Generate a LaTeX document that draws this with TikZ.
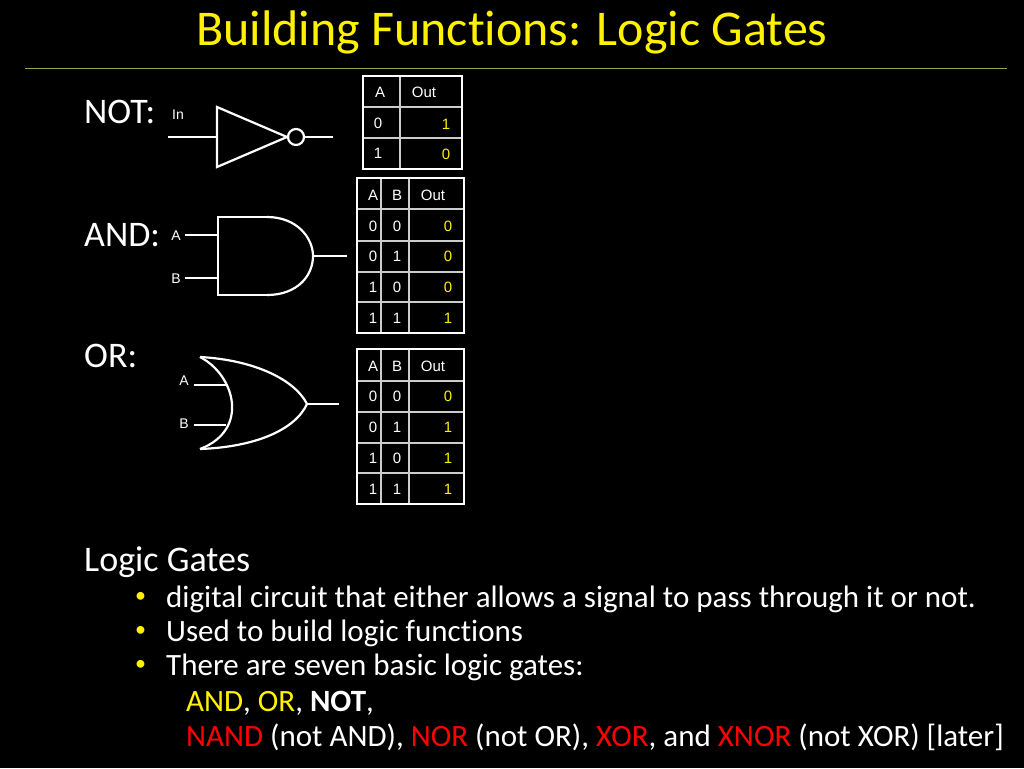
\documentclass[tikz,border=0pt]{standalone}
\usepackage{fontspec}
\setmainfont{Carlito}[RawFeature=-liga]
\newfontfamily\cellfont{Liberation Sans}
\begin{document}
\begin{tikzpicture}[x=1pt,y=-1pt,
  wire/.style={draw=white,line width=2.2pt},
  outer/.style={draw=white,line width=2.5pt},
  inner/.style={draw=white!80!black,line width=1.3pt},
  cell/.style={text=white,font=\cellfont\fontsize{15}{15}\selectfont,inner sep=0pt},
  ycell/.style={cell,text=yellow},
  lbl/.style={text=white,font=\fontsize{36}{36}\selectfont,anchor=west,inner sep=0pt},
  glbl/.style={text=white,font=\cellfont\fontsize{14}{14}\selectfont,inner sep=0pt},
  bul/.style={text=white,font=\fontsize{31}{31}\selectfont,anchor=west,inner sep=0pt}]
\fill[black] (0,0) rectangle (1024,768);
\useasboundingbox (0,0) rectangle (1024,768);
\node[text=yellow,font=\fontsize{50}{50}\selectfont] (title) at (512,32) {Building Functions: Logic Gates};
\draw[draw=yellow!60!black,line width=0.8pt] (25,68) -- (1007,68);
\node[lbl] (lnot) at (84,112) {NOT:};
\node[lbl] (land) at (84,235) {AND:};
\node[lbl] (lor) at (84,356) {OR:};
% NOT gate
\node[glbl] (in) at (178,115) {In};
\draw[wire] (168,137) -- (217,137);
\draw[wire,line join=miter] (217,107) -- (217,167) -- (287,137) -- cycle;
\draw[wire] (296,137) circle (8);
\draw[wire] (304,137) -- (333,137);
% AND gate
\node[glbl] (ga) at (176,236) {A};
\node[glbl] (gb) at (176,279) {B};
\draw[wire] (185,235) -- (218,235);
\draw[wire] (185,278) -- (218,278);
\draw[wire] (267,217) -- (218,217) -- (218,295) -- (267,295);
\draw[wire] (267,217) .. controls (297,217) and (313,238) .. (313,256) .. controls (313,276) and (297,295) .. (267,295);
\draw[wire] (313,256) -- (347,256);
% OR gate
\node[glbl] (oa) at (184,381) {A};
\node[glbl] (ob) at (184,424) {B};
\draw[wire] (200,357) .. controls (235,375) and (250,430) .. (200,449);
\draw[wire] (200,357) .. controls (255,360) and (295,380) .. (307,404) .. controls (295,430) and (255,447) .. (200,449);
\draw[wire] (194,385) -- (227,385);
\draw[wire] (194,425) -- (226,425);
\draw[wire] (307,404) -- (339,404);
% NOT table
\draw[inner] (400,76) -- (400,169) (363,107) -- (462,107) (363,138) -- (462,138);
\draw[outer] (363,76) rectangle (462,169);
\node[cell] (n1) at (380,92) {A}; \node[cell] (n2) at (424,92) {Out};
\node[cell] (n3) at (378,123) {0}; \node[ycell] (n4) at (446,124) {1};
\node[cell] (n5) at (378,153) {1}; \node[ycell] (n6) at (446,154) {0};
% AND table
\draw[inner] (381,178) -- (381,333) (409,178) -- (409,333)
  (357,209) -- (464,209) (357,241) -- (464,241) (357,272) -- (464,272) (357,302) -- (464,302);
\draw[outer] (357,178) rectangle (464,333);
\node[cell] (a1) at (373,195) {A}; \node[cell] (a2) at (397,195) {B}; \node[cell] (a3) at (433,195) {Out};
\node[cell] (a4) at (373,226) {0}; \node[cell] (a5) at (397,226) {0}; \node[ycell] (a6) at (448,226) {0};
\node[cell] (a7) at (373,256) {0}; \node[cell] (a8) at (397,256) {1}; \node[ycell] (a9) at (448,256) {0};
\node[cell] (a10) at (373,287) {1}; \node[cell] (a11) at (397,287) {0}; \node[ycell] (a12) at (448,287) {0};
\node[cell] (a13) at (373,318) {1}; \node[cell] (a14) at (397,318) {1}; \node[ycell] (a15) at (448,318) {1};
% OR table
\draw[inner] (381,349) -- (381,504) (409,349) -- (409,504)
  (357,381) -- (464,381) (357,412) -- (464,412) (357,443) -- (464,443) (357,473) -- (464,473);
\draw[outer] (357,349) rectangle (464,504);
\node[cell] (o1) at (373,366) {A}; \node[cell] (o2) at (397,366) {B}; \node[cell] (o3) at (433,366) {Out};
\node[cell] (o4) at (373,396) {0}; \node[cell] (o5) at (397,396) {0}; \node[ycell] (o6) at (448,396) {0};
\node[cell] (o7) at (373,427) {0}; \node[cell] (o8) at (397,427) {1}; \node[ycell] (o9) at (448,427) {1};
\node[cell] (o10) at (373,458) {1}; \node[cell] (o11) at (397,458) {0}; \node[ycell] (o12) at (448,458) {1};
\node[cell] (o13) at (373,489) {1}; \node[cell] (o14) at (397,489) {1}; \node[ycell] (o15) at (448,489) {1};
% text
\node[lbl] (lg) at (84,562) {Logic Gates};
\node[bul,text=yellow,font=\fontsize{22}{22}\selectfont] (b1) at (135,597) {•};
\node[bul,text=yellow,font=\fontsize{22}{22}\selectfont] (b2) at (135,631) {•};
\node[bul,text=yellow,font=\fontsize{22}{22}\selectfont] (b3) at (135,665) {•};
\node[bul] (t1) at (166,599) {digital circuit that either allows a signal to pass through it or not.};
\node[bul] (t2) at (166,633) {Used to build logic functions};
\node[bul] (t3) at (166,667) {There are seven basic logic gates:};
\node[bul] (t4) at (186,703) {\textcolor{yellow}{AND}, \textcolor{yellow}{OR}, \textbf{NOT},};
\node[bul] (t5) at (186,737) {\textcolor{red}{NAND} (not AND), \textcolor{red}{NOR} (not OR), \textcolor{red}{XOR}, and \textcolor{red}{XNOR} (not XOR) [later]};
\end{tikzpicture}
\end{document}
